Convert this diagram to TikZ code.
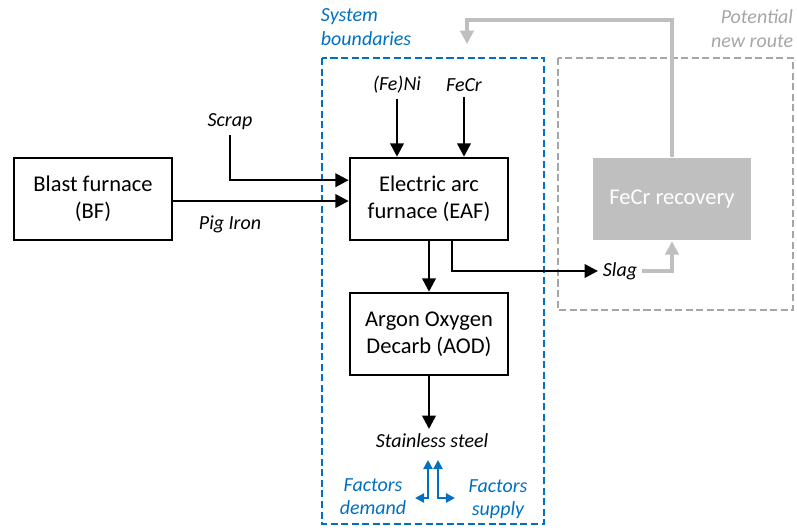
\documentclass[tikz,border=0pt]{standalone}
\usepackage{fontspec}
\setmainfont{Carlito}
\usetikzlibrary{arrows.meta}
\definecolor{sysblue}{HTML}{0070C0}
\definecolor{newgrey}{HTML}{BFBFBF}
\definecolor{txtgrey}{HTML}{A6A6A6}
\begin{document}
\begin{tikzpicture}[x=0.025cm, y=-0.025cm,
  box/.style={draw, line width=1.8pt, minimum width=3.95cm, minimum height=2.05cm,
    align=center, font=\fontsize{16}{19}\selectfont},
  lbl/.style={font=\fontsize{14.2}{16.5}\selectfont\itshape, align=center},
  flow/.style={line width=1.8pt, -{Triangle[length=9.5pt,width=9.5pt]}},
  greyflow/.style={newgrey, line width=2.2pt, -{Triangle[length=9.5pt,width=9.5pt]}},
  bound/.style={line width=1.6pt, dash pattern=on 5pt off 2.5pt}]
  \useasboundingbox (0,0) rectangle (797,529);

  % system boundaries and potential new route
  \draw[bound, sysblue] (322,58) rectangle (544,524);
  \draw[bound, txtgrey] (558,58) rectangle (793,310);
  \node[lbl, sysblue, align=left, anchor=north west] (sysb) at (316,4) {System\\boundaries};
  \node[lbl, txtgrey, align=right, anchor=north east] (newr) at (798,5) {Potential\\new route};

  % process boxes
  \node[box] (bf) at (93,199) {Blast furnace\\(BF)};
  \node[box] (eaf) at (429,199) {Electric arc\\furnace (EAF)};
  \node[box] (aod) at (429,334) {Argon Oxygen\\Decarb (AOD)};
  \node[box, draw=none, fill=newgrey, text=white] (fecr) at (672,199) {FeCr recovery};

  % inputs
  \node[lbl] (scrap) at (230,122) {Scrap};
  \node[lbl] (pig) at (230,224) {Pig Iron};
  \node[lbl] (feni) at (397,85) {(Fe)Ni};
  \node[lbl] (fecrin) at (464,85) {FeCr};
  \node[lbl] (slag) at (620,271) {Slag};
  \node[lbl] (steel) at (432,441) {Stainless steel};
  \node[lbl, sysblue] (demand) at (373,497) {Factors\\demand};
  \node[lbl, sysblue] (supply) at (498,499) {Factors\\supply};

  \draw[flow] (scrap.south) |- ([yshift=0.47cm]eaf.west);
  \draw[flow] ([yshift=-0.05cm]bf.east) -- ([yshift=-0.05cm]eaf.west);
  \draw[flow] (feni.south) -- (feni.south |- eaf.north);
  \draw[flow] (fecrin.south) -- (fecrin.south |- eaf.north);
  \draw[flow] (eaf) -- (aod);
  \draw[flow] ([xshift=0.575cm]eaf.south) |- (slag.west);
  \draw[flow] (aod.south) -- (aod.south |- steel.north);

  % potential new route
  \coordinate (back) at (467,44);
  \draw[greyflow] (slag.east) -| (fecr.south);
  \draw[greyflow] (fecr.north) |- (467,20) -- (back);

  % factors
  \coordinate (dleft) at (415,498);
  \coordinate (dup) at (428,460);
  \coordinate (sright) at (455,498);
  \coordinate (sup) at (438,460);
  \draw[sysblue, line width=1.6pt, {Triangle[length=6.5pt,width=6.5pt]}-{Triangle[length=6.5pt,width=6.5pt]}]
    (dleft) -| (dup);
  \draw[sysblue, line width=1.6pt, {Triangle[length=6.5pt,width=6.5pt]}-{Triangle[length=6.5pt,width=6.5pt]}]
    (sright) -| (sup);
\end{tikzpicture}
\end{document}
